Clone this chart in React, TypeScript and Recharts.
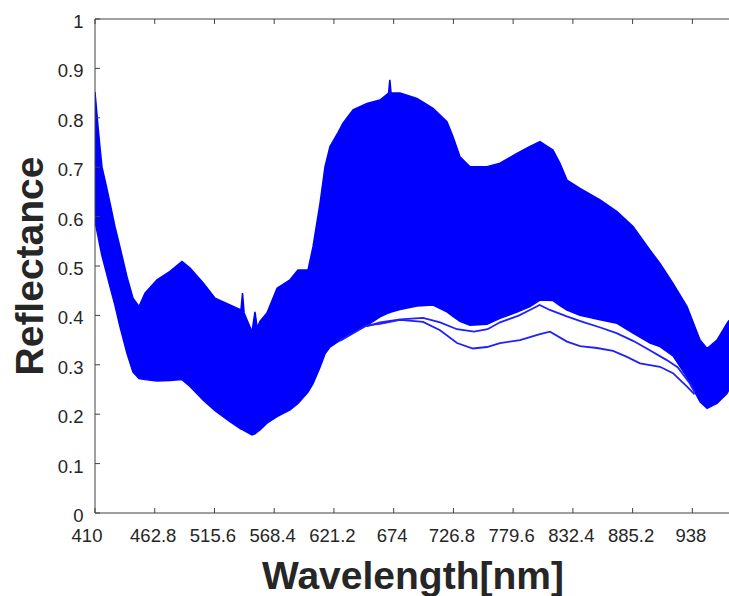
import { ComposedChart, Area, Line, XAxis, YAxis, Customized } from 'recharts';

// sampled wavelengths (nm) for the envelope of the spectra bundle
const wavelengths = [
  410, 412.7, 414.4, 416.2, 419.7, 423.3, 427.7, 432.1, 438.3, 443.6, 448.9, 454.2, 464.8,
  476.3, 486.9, 494, 505.5, 516.1, 529.3, 539, 540.4, 541.8, 548.8, 551.4, 553.4, 555.8,
  562, 570.9, 582.4, 589.4, 598.3, 602.7, 608.9, 613.3, 617.7, 624.8, 629.2, 638.1, 650.4,
  661.9, 669.5, 670.6, 671.7, 679.6, 694.6, 708.8, 721.1, 726.4, 732.6, 741.5, 756.5, 768,
  783, 794.5, 803.3, 814.8, 821, 827.2, 838.7, 856.4, 871.4, 885.6, 900.6, 909.4, 920.9,
  933.3, 944.8, 951, 959.8, 968.6, 970.4,
];
const upperEdge = [
  0.852, 0.782, 0.74, 0.7, 0.665, 0.627, 0.579, 0.538, 0.478, 0.435, 0.418, 0.445, 0.472,
  0.489, 0.509, 0.496, 0.466, 0.435, 0.421, 0.411, 0.445, 0.405, 0.367, 0.407, 0.375, 0.388,
  0.405, 0.455, 0.472, 0.492, 0.492, 0.539, 0.627, 0.701, 0.742, 0.77, 0.789, 0.816, 0.829,
  0.836, 0.85, 0.877, 0.85, 0.85, 0.839, 0.819, 0.792, 0.762, 0.721, 0.701, 0.701, 0.708,
  0.728, 0.742, 0.752, 0.735, 0.708, 0.674, 0.657, 0.634, 0.61, 0.58, 0.532, 0.505, 0.465,
  0.418, 0.35, 0.333, 0.35, 0.384, 0.39,
];
const lowerEdge = [
  0.59, 0.56, 0.54, 0.52, 0.49, 0.458, 0.42, 0.377, 0.323, 0.285, 0.272, 0.27, 0.267,
  0.268, 0.27, 0.256, 0.229, 0.207, 0.185, 0.17, 0.169, 0.167, 0.158, 0.16, 0.164, 0.168,
  0.182, 0.195, 0.209, 0.222, 0.245, 0.262, 0.295, 0.322, 0.336, 0.347, 0.352, 0.365, 0.38,
  0.397, 0.405, 0.406, 0.407, 0.412, 0.419, 0.421, 0.407, 0.398, 0.388, 0.38, 0.382, 0.394,
  0.407, 0.418, 0.431, 0.43, 0.42, 0.411, 0.4, 0.391, 0.384, 0.364, 0.344, 0.337, 0.318,
  0.275, 0.225, 0.212, 0.222, 0.242, 0.25,
];

// the two spectra that fall below the bundle
const lowSpectrumNm = [
  626.6, 639.8, 650.4, 661.9, 679.6, 700, 715, 730, 744, 756.5, 768, 785.7, 803.3, 812.2,
  827.2, 838.7, 853.7, 867.9, 880.2, 891.7, 909.4, 920.9, 933.3, 940,
];
const lowSpectrum = [
  0.349, 0.366, 0.38, 0.383, 0.391, 0.387, 0.37, 0.344, 0.333, 0.336, 0.344, 0.35, 0.362, 0.367,
  0.347, 0.338, 0.334, 0.328, 0.316, 0.303, 0.296, 0.283, 0.256, 0.24,
];
const nearSpectrumNm = [
  650, 662, 680, 700, 715, 730, 745, 757, 768, 785, 797, 803, 812, 827, 841, 856, 871, 886,
  900, 915, 925, 935, 940,
];
const nearSpectrum = [
  0.378, 0.386, 0.392, 0.395, 0.386, 0.372, 0.367, 0.372, 0.386, 0.4, 0.414, 0.421, 0.411,
  0.398, 0.387, 0.376, 0.364, 0.348, 0.33, 0.31, 0.295, 0.265, 0.245,
];

const xTicks = [410, 462.8, 515.6, 568.4, 621.2, 674, 726.8, 779.6, 832.4, 885.2, 938];
const yTicks = [0, 0.1, 0.2, 0.3, 0.4, 0.5, 0.6, 0.7, 0.8, 0.9, 1];

const band = wavelengths.map((nm, i) => ({ nm, range: [lowerEdge[i], upperEdge[i]] }));
const lowData = lowSpectrumNm.map((nm, i) => ({ nm, v: lowSpectrum[i] }));
const nearData = nearSpectrumNm.map((nm, i) => ({ nm, v: nearSpectrum[i] }));

const FONT = '"Liberation Sans", Arial, Helvetica, sans-serif';
const AXIS = '#404040';
const BLUE = '#0000ff';

function XTick({ x, y, payload, index }: any) {
  const shift = index === 0 ? -8 : -1.5;
  return (
    <text x={x + shift} y={y + 34} textAnchor="middle" fontFamily={FONT} fontSize={18.5} fill="#262626">
      {String(payload.value)}
    </text>
  );
}

function YTick({ x, y, payload }: any) {
  return (
    <text x={x - 16.5} y={y + 9} textAnchor="end" fontFamily={FONT} fontSize={18.5} fill="#262626">
      {String(payload.value)}
    </text>
  );
}

const noTick = () => <g />;

function Titles() {
  return (
    <g fontFamily={FONT} fontWeight="bold" fontSize={39} fill="#262626">
      <text x={413} y={589} textAnchor="middle">Wavelength[nm]</text>
      <text x={43} y={266} textAnchor="middle" transform="rotate(-90, 43, 266)">Reflectance</text>
    </g>
  );
}

export default function App() {
  return (
    <div style={{ width: 729, height: 596, background: '#fff' }}>
      <style>{'body{margin:0}'}</style>
      <ComposedChart width={729} height={596} data={band} margin={{ top: 18, right: 0, bottom: 82, left: 94 }}>
        <XAxis
          type="number"
          dataKey="nm"
          domain={[410, 970.4]}
          allowDataOverflow
          ticks={xTicks}
          height={1}
          tickSize={-5}
          tickMargin={0}
          tick={<XTick />}
          axisLine={{ stroke: AXIS }}
          tickLine={{ stroke: AXIS }}
        />
        <XAxis
          xAxisId="top"
          orientation="top"
          type="number"
          dataKey="nm"
          domain={[410, 970.4]}
          allowDataOverflow
          ticks={xTicks}
          height={1}
          tickSize={-5}
          tick={noTick}
          axisLine={{ stroke: AXIS }}
          tickLine={{ stroke: AXIS }}
        />
        <YAxis
          type="number"
          domain={[0, 1]}
          ticks={yTicks}
          width={1}
          tickSize={-5}
          tickMargin={0}
          tick={<YTick />}
          axisLine={{ stroke: AXIS }}
          tickLine={{ stroke: AXIS }}
        />
        <Area
          type="linear"
          dataKey="range"
          fill={BLUE}
          fillOpacity={1}
          stroke={BLUE}
          strokeWidth={1.5}
          dot={false}
          activeDot={false}
          isAnimationActive={false}
        />
        <Line data={nearData} type="linear" dataKey="v" stroke="#1f1fff" strokeWidth={1.8} dot={false} activeDot={false} isAnimationActive={false} />
        <Line data={lowData} type="linear" dataKey="v" stroke="#1f1fff" strokeWidth={1.8} dot={false} activeDot={false} isAnimationActive={false} />
        <Customized component={<Titles />} />
      </ComposedChart>
    </div>
  );
}
